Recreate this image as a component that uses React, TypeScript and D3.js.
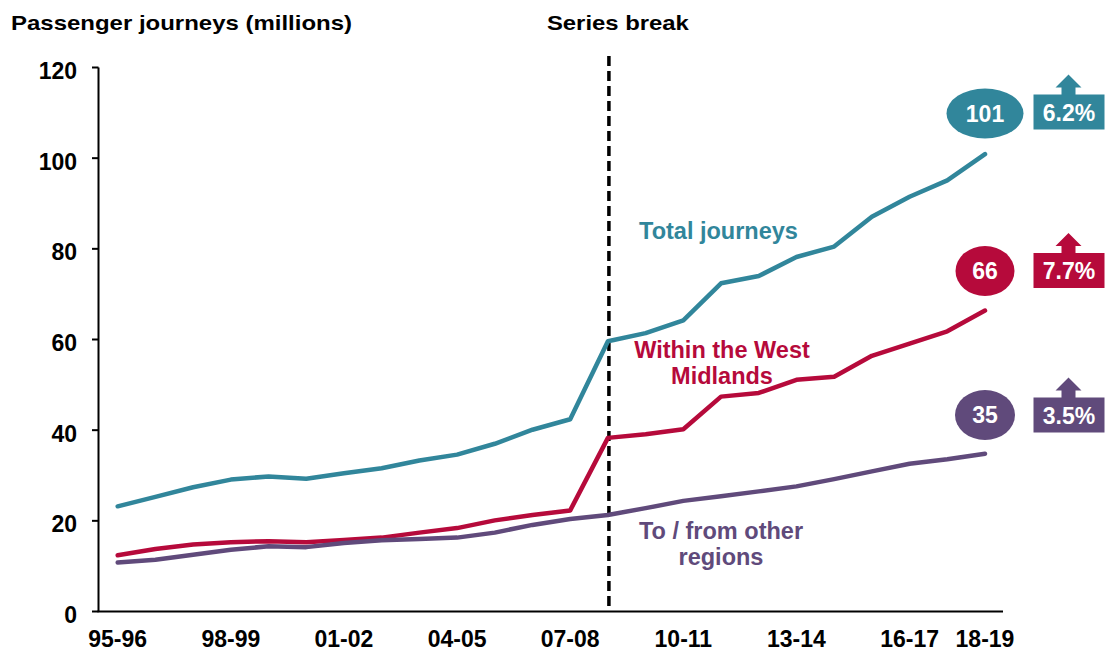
import React from "react";
import * as d3 from "d3";

const years = [
  "95-96", "96-97", "97-98", "98-99", "99-00", "00-01", "01-02", "02-03",
  "03-04", "04-05", "05-06", "06-07", "07-08", "08-09", "09-10", "10-11",
  "11-12", "12-13", "13-14", "14-15", "15-16", "16-17", "17-18", "18-19",
];
const xTickLabels = ["95-96", "98-99", "01-02", "04-05", "07-08", "10-11", "13-14", "16-17", "18-19"];
const yTicks = [0, 20, 40, 60, 80, 100, 120];

const totalJourneys = [
  23.2, 25.3, 27.4, 29.1, 29.8, 29.3, 30.5, 31.6, 33.3, 34.6, 37.0, 40.1,
  42.4, 59.6, 61.4, 64.2, 72.4, 74.0, 78.2, 80.5, 87.1, 91.5, 95.1, 100.9,
];
const withinWM = [
  12.4, 13.8, 14.8, 15.3, 15.5, 15.3, 15.8, 16.3, 17.4, 18.4, 20.1, 21.3,
  22.3, 38.3, 39.1, 40.2, 47.4, 48.2, 51.1, 51.8, 56.4, 59.1, 61.8, 66.4,
];
const otherRegions = [
  10.8, 11.4, 12.5, 13.6, 14.4, 14.2, 15.1, 15.7, 16.0, 16.3, 17.4, 19.1,
  20.4, 21.3, 22.8, 24.4, 25.4, 26.5, 27.6, 29.2, 30.9, 32.6, 33.6, 34.8,
];

const seriesNames = ["Total journeys", "Within the West Midlands", "To / from other regions"];
const endValues = ["101", "66", "35"];
const growth = ["6.2%", "7.7%", "3.5%"];
const seriesBreak = "08-09";

const TEAL = "#31869B";
const RED = "#B60A3B";
const PURPLE = "#604A7B";
const FONT = "'Liberation Sans', Arial, Helvetica, sans-serif";

export default function App() {
  const x = d3.scalePoint<string>().domain(years).range([117.7, 985]);
  const y = d3.scaleLinear().domain([0, 120]).range([611.5, 67.5]);
  const line = d3
    .line<number>()
    .x((_, i) => x(years[i]) as number)
    .y((d) => y(d));

  const series = [
    { values: totalJourneys, color: TEAL },
    { values: withinWM, color: RED },
    { values: otherRegions, color: PURPLE },
  ];

  const lastYear = years[years.length - 1];
  const lx = x(lastYear) as number;
  const ellipseCY = [113.5, 271, 415];
  const ellipseRX = [38.5, 29.5, 30];
  const boxTop = [94.5, 253, 397.5];
  const boxX = 1033.5;
  const boxW = 71;
  const boxH = 35;
  const arrowCX = 1068.5;

  const bx = x(seriesBreak) as number;

  return (
    <svg
      width={1106}
      height={653}
      style={{ position: "absolute", left: 0, top: 0, background: "#fff" }}
      fontFamily={FONT}
      fontWeight="bold"
    >
      <rect x={0} y={0} width={1106} height={653} fill="#fff" />
      {/* title */}
      <text x={11} y={30} fontSize={21} fill="#000" textLength={341} lengthAdjust="spacingAndGlyphs">
        Passenger journeys (millions)
      </text>
      <text x={bx + 10} y={30} fontSize={21} fill="#000" textAnchor="middle" textLength={142} lengthAdjust="spacingAndGlyphs">
        Series break
      </text>

      {/* y axis */}
      <line x1={98.5} x2={98.5} y1={y(120)} y2={y(0)} stroke="#000" strokeWidth={2} />
      {yTicks.map((t) => (
        <g key={t}>
          <line x1={92} x2={98.5} y1={y(t)} y2={y(t)} stroke="#000" strokeWidth={2} />
          <text x={77} y={y(t) + 11.5} fontSize={23} textAnchor="end" fill="#000">
            {t}
          </text>
        </g>
      ))}
      {/* x axis */}
      <line x1={97.5} x2={1003} y1={y(0)} y2={y(0)} stroke="#000" strokeWidth={2} />
      {xTickLabels.map((l) => (
        <text key={l} x={x(l) as number} y={646.5} fontSize={23} textAnchor="middle" fill="#000">
          {l}
        </text>
      ))}

      {/* series break */}
      <line
        x1={bx + 1}
        x2={bx + 1}
        y1={56}
        y2={y(0)}
        stroke="#000"
        strokeWidth={3.5}
        strokeDasharray="10 5"
      />

      {/* lines */}
      {series.map((s, i) => (
        <path
          key={i}
          d={line(s.values) || ""}
          fill="none"
          stroke={s.color}
          strokeWidth={4.5}
          strokeLinejoin="round"
          strokeLinecap="round"
        />
      ))}

      {/* series labels */}
      <text x={718.5} y={239} fontSize={23.5} fill={TEAL} textAnchor="middle">
        {seriesNames[0]}
      </text>
      <text x={722} y={358} fontSize={23.5} fill={RED} textAnchor="middle">
        <tspan x={722}>Within the West</tspan>
        <tspan x={722} dy={26}>Midlands</tspan>
      </text>
      <text x={721} y={539} fontSize={23.5} fill={PURPLE} textAnchor="middle">
        <tspan x={721}>To / from other</tspan>
        <tspan x={721} dy={26}>regions</tspan>
      </text>

      {/* end labels */}
      {series.map((s, i) => (
        <g key={"end" + i}>
          <ellipse cx={lx} cy={ellipseCY[i]} rx={ellipseRX[i]} ry={25} fill={s.color} />
          <text x={lx} y={ellipseCY[i] + 8} fontSize={23} fill="#fff" textAnchor="middle">
            {endValues[i]}
          </text>
          <rect x={boxX} y={boxTop[i]} width={boxW} height={boxH} fill={s.color} />
          <path
            d={`M${arrowCX},${boxTop[i] - 20} L${arrowCX + 13},${boxTop[i] - 7} L${arrowCX + 7},${boxTop[i] - 7} L${arrowCX + 7},${boxTop[i] + 1} L${arrowCX - 7},${boxTop[i] + 1} L${arrowCX - 7},${boxTop[i] - 7} L${arrowCX - 13},${boxTop[i] - 7} Z`}
            fill={s.color}
          />
          <text x={boxX + boxW / 2} y={boxTop[i] + 26} fontSize={23} fill="#fff" textAnchor="middle">
            {growth[i]}
          </text>
        </g>
      ))}
    </svg>
  );
}
